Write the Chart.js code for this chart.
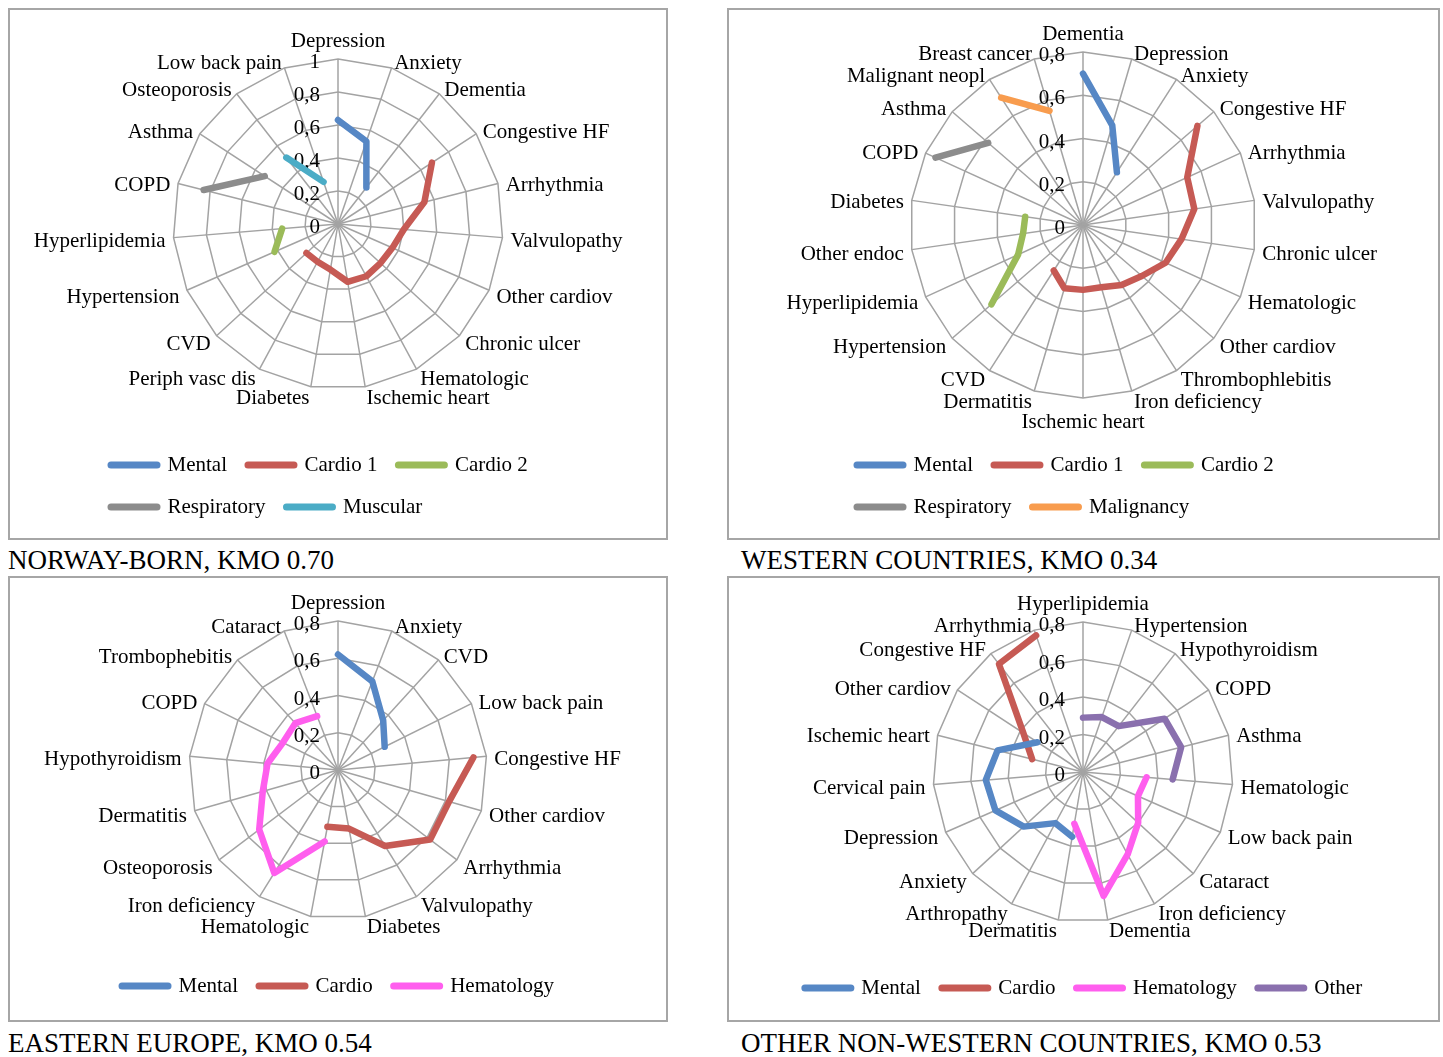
<!DOCTYPE html>
<html>
<head>
<meta charset="utf-8">
<script src="https://cdn.jsdelivr.net/npm/chart.js@4/dist/chart.umd.min.js"></script>
<style>
html,body{margin:0;padding:0;background:#fff;}
body{width:1443px;height:1057px;position:relative;overflow:hidden;font-family:'Liberation Serif','Times New Roman',serif;}
.box{position:absolute;border:2px solid #a6a6a6;box-sizing:border-box;background:#fff;}
.box canvas{position:absolute;left:0;top:0;}
.ttl{position:absolute;font-size:27px;line-height:30px;color:#000;white-space:nowrap;}
</style>
</head>
<body>
<div class="box" style="left:8px;top:8px;width:660px;height:532px"><canvas id="c1" width="656" height="528"></canvas></div>
<div class="box" style="left:727px;top:8px;width:713px;height:532px"><canvas id="c2" width="709" height="528"></canvas></div>
<div class="box" style="left:8px;top:576px;width:660px;height:446px"><canvas id="c3" width="656" height="442"></canvas></div>
<div class="box" style="left:727px;top:576px;width:713px;height:446px"><canvas id="c4" width="709" height="442"></canvas></div>
<div class="ttl" style="left:8px;top:545px">NORWAY-BORN, KMO 0.70</div>
<div class="ttl" style="left:741px;top:545px">WESTERN COUNTRIES, KMO 0.34</div>
<div class="ttl" style="left:8px;top:1028px">EASTERN EUROPE, KMO 0.54</div>
<div class="ttl" style="left:741px;top:1028px">OTHER NON-WESTERN COUNTRIES, KMO 0.53</div>
<script>
// ---------- DATA ----------
// Panel 1: Norway-born
const norwayAxes = ['Depression','Anxiety','Dementia','Congestive HF','Arrhythmia','Valvulopathy','Other cardiov','Chronic ulcer','Hematologic','Ischemic heart','Diabetes','Periph vasc dis','CVD','Hypertension','Hyperlipidemia','COPD','Asthma','Osteoporosis','Low back pain'];
const norwayMental      = [0.63,0.53,0.28,null,null,null,null,null,null,null,null,null,null,null,null,null,null,null,null];
const norwayCardio1     = [null,null,null,0.68,0.54,0.40,0.36,0.35,0.36,0.355,0.28,0.26,0.26,null,null,null,null,null,null];
const norwayCardio2     = [null,null,null,null,null,null,null,null,null,null,null,null,null,0.42,0.34,null,null,null,null];
const norwayRespiratory = [null,null,null,null,null,null,null,null,null,null,null,null,null,null,null,0.84,0.53,null,null];
const norwayMuscular    = [null,null,null,null,null,null,null,null,null,null,null,null,null,null,null,null,null,0.51,0.27];
const norwayTicks = [0,0.2,0.4,0.6,0.8,1];
const norwayTickLabels = ['0','0,2','0,4','0,6','0,8','1'];

// Panel 2: Western countries
const westAxes = ['Dementia','Depression','Anxiety','Congestive HF','Arrhythmia','Valvulopathy','Chronic ulcer','Hematologic','Other cardiov','Thrombophlebitis','Iron deficiency','Ischemic heart','Dermatitis','CVD','Hypertension','Hyperlipidemia','Other endoc','Diabetes','COPD','Asthma','Malignant neopl','Breast cancer'];
const westMental      = [0.70,0.48,0.29,null,null,null,null,null,null,null,null,null,null,null,null,null,null,null,null,null,null,null];
const westCardio1     = [null,null,null,0.70,0.53,0.52,0.46,0.42,0.36,0.33,0.30,0.30,0.305,0.25,null,null,null,null,null,null,null,null];
const westCardio2     = [null,null,null,null,null,null,null,null,null,null,null,null,null,null,0.56,0.33,0.28,0.27,null,null,null,null];
const westRespiratory = [null,null,null,null,null,null,null,null,null,null,null,null,null,null,null,null,null,null,0.75,0.58,null,null];
const westMalignancy  = [null,null,null,null,null,null,null,null,null,null,null,null,null,null,null,null,null,null,null,null,0.70,0.55];

// Panel 3: Eastern Europe
const eastAxes = ['Depression','Anxiety','CVD','Low back pain','Congestive HF','Other cardiov','Arrhythmia','Valvulopathy','Diabetes','Hematologic','Iron deficiency','Osteoporosis','Dermatitis','Hypothyroidism','COPD','Trombophebitis','Cataract'];
const eastMental     = [0.62,0.51,0.36,0.28,null,null,null,null,null,null,null,null,null,null,null,null,null];
const eastCardio     = [null,null,null,null,0.73,0.62,0.62,0.48,0.32,0.31,null,null,null,null,null,null,null];
const eastHematology = [null,null,null,null,null,null,null,null,null,0.39,0.65,0.53,0.42,0.38,0.33,0.34,0.31];

// Panel 4: Other non-western countries
const otherAxes = ['Hyperlipidemia','Hypertension','Hypothyroidism','COPD','Asthma','Hematologic','Low back pain','Cataract','Iron deficiency','Dementia','Dermatitis','Arthropathy','Anxiety','Depression','Cervical pain','Ischemic heart','Other cardiov','Congestive HF','Arrhythmia'];
const otherMental     = [null,null,null,null,null,null,null,null,null,null,0.35,0.31,0.43,0.51,0.52,0.47,0.29,null,null];
const otherCardio     = [null,null,null,null,null,null,null,null,null,null,null,null,null,null,null,0.28,0.38,0.73,0.77];
const otherHematology = [null,null,null,null,null,0.34,0.32,0.40,0.50,0.67,0.28,null,null,null,null,null,null,null,null];
const otherOther      = [0.29,0.31,0.31,0.52,0.54,0.48,null,null,null,null,null,null,null,null,null,null,null,null,null];

const smallTicks = [0,0.2,0.4,0.6,0.8];
const smallTickLabels = ['0','0,2','0,4','0,6','0,8'];

// ---------- STYLE ----------
const FAMILY = "'Liberation Serif', 'Times New Roman', serif";
const FS = 21;
const TEXT_DY = 3.5;
const C = {
  mental: '#5687C5', cardio: '#C65A54', cardio2: '#9BBB59', resp: '#8C8C8C',
  musc: '#4BACC6', malig: '#F89C4E', hemat: '#FF5EEE', other: '#8A70AE'
};
const GRID = '#a3a3a3';

function makeAfterFit(geom) {
  return function(scale) {
    scale.xCenter = geom.cx;
    scale.yCenter = geom.cy;
    scale.drawingArea = geom.r;
    const ctx = scale.ctx;
    const h = FS * 1.2;
    ctx.save();
    ctx.font = FS + 'px ' + FAMILY;
    const items = [];
    const n = scale._pointLabels.length;
    for (let i = 0; i < n; i++) {
      const txt = String(scale._pointLabels[i]);
      const pos = scale.getPointPosition(i, geom.r + geom.pad);
      const w = ctx.measureText(txt).width;
      const deg = Math.round(scale.getIndexAngle(i) * 180 / Math.PI) % 360;
      let align, top;
      if (deg === 0) { align = 'center'; top = pos.y - h + TEXT_DY; }
      else if (deg === 180) { align = 'center'; top = pos.y + TEXT_DY; }
      else { align = deg < 180 ? 'left' : 'right'; top = pos.y - h / 2 + TEXT_DY; }
      const left = align === 'center' ? pos.x - w / 2 : (align === 'left' ? pos.x : pos.x - w);
      items.push({visible: true, x: pos.x, y: top, textAlign: align, left: left, top: top, right: left + w, bottom: top + h});
    }
    ctx.restore();
    scale._pointLabelItems = items;
  };
}

const leftTicks = {
  id: 'leftTicks',
  beforeDatasetsDraw(chart, args, opts) {
    const s = chart.scales.r;
    const ctx = chart.ctx;
    ctx.save();
    ctx.font = FS + 'px ' + FAMILY;
    ctx.fillStyle = '#000';
    ctx.textAlign = 'right';
    ctx.textBaseline = 'middle';
    opts.values.forEach((v, i) => {
      const d = s.getDistanceFromCenterForValue(v);
      ctx.fillText(opts.labels[i], s.xCenter - opts.gap, s.yCenter - d + TEXT_DY);
    });
    ctx.restore();
  }
};

function radar(id, axes, series, max, ticks, tickLabels, geom, legend) {
  return new Chart(document.getElementById(id), {
    type: 'radar',
    data: {
      labels: axes,
      datasets: series.map(s => ({
        label: s.name, data: s.data,
        borderColor: s.color, backgroundColor: s.color,
        borderWidth: 6.5, borderCapStyle: 'round', borderJoinStyle: 'round',
        fill: false, pointRadius: 0, pointHoverRadius: 0, pointHitRadius: 0,
        tension: 0, spanGaps: false, clip: false
      }))
    },
    options: {
      responsive: false,
      animation: false,
      events: [],
      layout: {padding: legend.padding},
      plugins: {
        tooltip: {enabled: false},
        leftTicks: {values: ticks, labels: tickLabels, gap: 18},
        legend: {
          position: 'bottom',
          align: legend.align,
          labels: {
            usePointStyle: true,
            pointStyle: 'line',
            pointStyleWidth: 46,
            padding: 21,
            color: '#000',
            font: {family: FAMILY, size: FS},
            generateLabels: (chart) => Chart.defaults.plugins.legend.labels.generateLabels(chart).map(l => Object.assign(l, {lineCap: 'round', lineWidth: 7}))
          }
        }
      },
      scales: {
        r: {
          min: 0, max: max,
          ticks: {display: false, stepSize: 0.2},
          grid: {color: GRID, lineWidth: 1.5, circular: false},
          angleLines: {color: GRID, lineWidth: 1.5},
          pointLabels: {color: '#000', font: {family: FAMILY, size: FS}, padding: 8},
          afterFit: makeAfterFit(geom)
        }
      }
    },
    plugins: [leftTicks]
  });
}

radar('c1', norwayAxes, [
  {name: 'Mental', data: norwayMental, color: C.mental},
  {name: 'Cardio 1', data: norwayCardio1, color: C.cardio},
  {name: 'Cardio 2', data: norwayCardio2, color: C.cardio2},
  {name: 'Respiratory', data: norwayRespiratory, color: C.resp},
  {name: 'Muscular', data: norwayMuscular, color: C.musc}
], 1, norwayTicks, norwayTickLabels, {cx: 328, cy: 214, r: 165, pad: 8},
  {align: 'start', padding: {left: 80, right: 50, top: 0, bottom: 10.5}});

radar('c2', westAxes, [
  {name: 'Mental', data: westMental, color: C.mental},
  {name: 'Cardio 1', data: westCardio1, color: C.cardio},
  {name: 'Cardio 2', data: westCardio2, color: C.cardio2},
  {name: 'Respiratory', data: westRespiratory, color: C.resp},
  {name: 'Malignancy', data: westMalignancy, color: C.malig}
], 0.8, smallTicks, smallTickLabels, {cx: 354, cy: 215, r: 173, pad: 8},
  {align: 'start', padding: {left: 107, right: 50, top: 0, bottom: 10.5}});

radar('c3', eastAxes, [
  {name: 'Mental', data: eastMental, color: C.mental},
  {name: 'Cardio', data: eastCardio, color: C.cardio},
  {name: 'Hematology', data: eastHematology, color: C.hemat}
], 0.8, smallTicks, smallTickLabels, {cx: 328, cy: 192, r: 149, pad: 8},
  {align: 'center', padding: {left: 0, right: 0, top: 0, bottom: 13.5}});

radar('c4', otherAxes, [
  {name: 'Mental', data: otherMental, color: C.mental},
  {name: 'Cardio', data: otherCardio, color: C.cardio},
  {name: 'Hematology', data: otherHematology, color: C.hemat},
  {name: 'Other', data: otherOther, color: C.other}
], 0.8, smallTicks, smallTickLabels, {cx: 354, cy: 194, r: 150, pad: 8},
  {align: 'center', padding: {left: 0, right: 0, top: 0, bottom: 11.5}});
</script>
</body>
</html>
